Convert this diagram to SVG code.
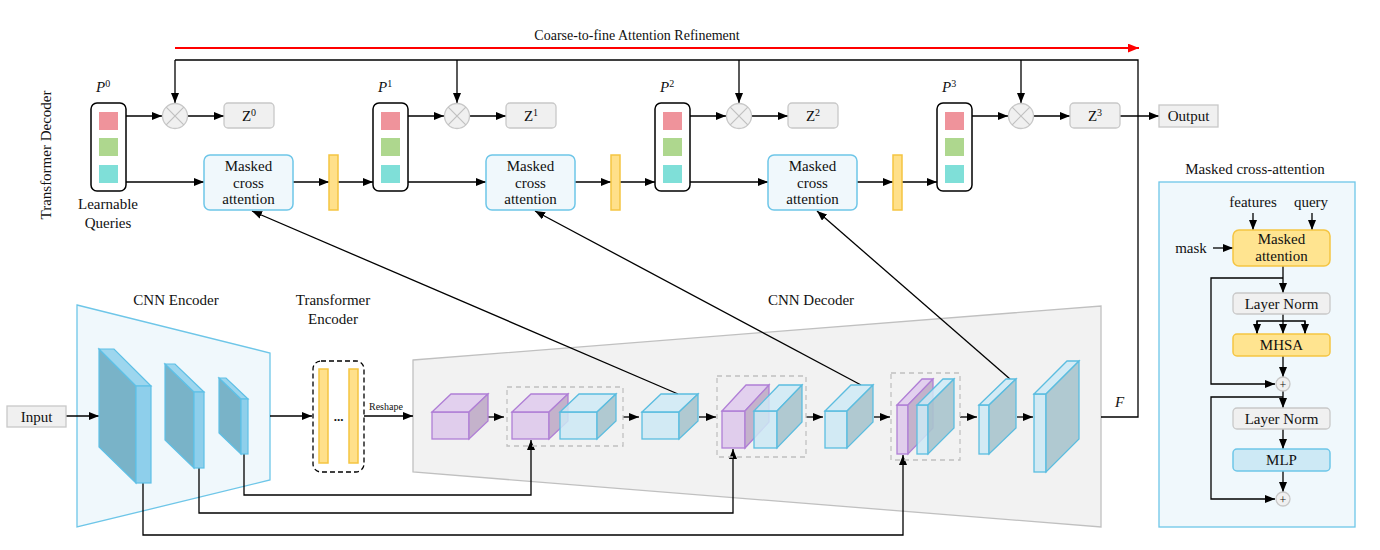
<svg xmlns="http://www.w3.org/2000/svg" width="1380" height="550" viewBox="0 0 1380 550">
<defs>
<marker id="ah" viewBox="0 0 10 8" refX="10" refY="4" markerWidth="10" markerHeight="8" markerUnits="userSpaceOnUse" orient="auto"><path d="M0,0 L10,4 L0,8 Z" fill="#000"/></marker>
<marker id="ahr" viewBox="0 0 10 8" refX="10" refY="4" markerWidth="11" markerHeight="9" markerUnits="userSpaceOnUse" orient="auto"><path d="M0,0 L10,4 L0,8 Z" fill="#f00"/></marker>
<style>
text{font-family:"Liberation Serif","Times New Roman",serif;font-size:15px;fill:#111;}
.c{text-anchor:middle;}
.it{font-style:italic;}
.ln{fill:none;stroke:#000;stroke-width:1.3;}
.la{fill:none;stroke:#000;stroke-width:1.3;marker-end:url(#ah);}
.pbox{fill:#fff;stroke:#000;stroke-width:1.5;}
.sq1{fill:#ef939b;}
.sq2{fill:#aed78e;}
.sq3{fill:#7fdfd8;}
.gbox{fill:#f0f0f0;stroke:#c8c8c8;stroke-width:1.3;}
.bbox{fill:#f0f8fc;stroke:#6ec6e8;stroke-width:1.5;}
.ybox{fill:#ffe490;stroke:#f5c542;stroke-width:1.5;}
.mbox{fill:#cde9f5;stroke:#6ec6e8;stroke-width:1.5;}
.ybar{fill:#ffe08a;stroke:#f5c542;stroke-width:1.5;}
.circ{fill:#f0f0f0;stroke:#c8c8c8;stroke-width:1.3;}
.cx{stroke:#c0c0c0;stroke-width:1.2;}
.ef{fill:#8ecfeb;stroke:#5ec0e6;stroke-width:1.2;}
.et{fill:#9dd6ee;stroke:#5ec0e6;stroke-width:1.2;}
.es{fill:#79b3c8;stroke:#5ec0e6;stroke-width:1.2;}
.pf{fill:#e0cdec;stroke:#b07fd6;stroke-width:1.3;}
.pt{fill:#e2d0ee;stroke:#b07fd6;stroke-width:1.3;}
.ps{fill:#c4b2cb;stroke:#b07fd6;stroke-width:1.3;}
.bf{fill:#cde9f5;fill-opacity:0.85;stroke:#5bbde0;stroke-width:1.3;}
.bt{fill:#cfeaf6;fill-opacity:0.85;stroke:#5bbde0;stroke-width:1.3;}
.bs{fill:#a9c4cd;fill-opacity:0.9;stroke:#5bbde0;stroke-width:1.3;}
.dash{fill:none;stroke:#c0c0c0;stroke-width:1.3;stroke-dasharray:5,4;}
</style>
</defs>

<!-- background panels -->
<g id="cnn-encoder-panel">
<polygon points="77,305 270,353 270,480 77,527" fill="#f0f8fc" stroke="#6ec6e8" stroke-width="1.3"/>
<text class="c" x="176" y="305">CNN Encoder</text>
</g>
<g id="cnn-decoder-panel">
<polygon points="413,360 1101,306 1101,527 413,472" fill="#f2f2f2" stroke="#c0c0c0" stroke-width="1.3"/>
<text class="c" x="811" y="305">CNN Decoder</text>
</g>

<!-- connectors -->
<g id="connectors">
<line x1="175" y1="48" x2="1139" y2="48" stroke="#f00" stroke-width="2" marker-end="url(#ahr)"/>
<polyline class="ln" points="1101,417 1138,417 1138,60 175,60"/>
<line class="la" x1="175" y1="60" x2="175" y2="103"/>
<line class="la" x1="457" y1="60" x2="457" y2="103"/>
<line class="la" x1="739" y1="60" x2="739" y2="103"/>
<line class="la" x1="1021" y1="60" x2="1021" y2="103"/>
<!-- P to circles to Z -->
<line class="la" x1="126" y1="116" x2="162" y2="116"/>
<line class="la" x1="188" y1="116" x2="224" y2="116"/>
<line class="la" x1="408" y1="116" x2="444" y2="116"/>
<line class="la" x1="470" y1="116" x2="506" y2="116"/>
<line class="la" x1="690" y1="116" x2="726" y2="116"/>
<line class="la" x1="752" y1="116" x2="788" y2="116"/>
<line class="la" x1="972" y1="116" x2="1008" y2="116"/>
<line class="la" x1="1034" y1="116" x2="1070" y2="116"/>
<line class="la" x1="1120" y1="116" x2="1159" y2="116"/>
<!-- lower chain -->
<line class="la" x1="126" y1="182" x2="204" y2="182"/>
<line class="la" x1="293" y1="182" x2="329" y2="182"/>
<line class="la" x1="338" y1="182" x2="373" y2="182"/>
<line class="la" x1="408" y1="182" x2="486" y2="182"/>
<line class="la" x1="575" y1="182" x2="611" y2="182"/>
<line class="la" x1="620" y1="182" x2="655" y2="182"/>
<line class="la" x1="690" y1="182" x2="768" y2="182"/>
<line class="la" x1="857" y1="182" x2="893" y2="182"/>
<line class="la" x1="902" y1="182" x2="937" y2="182"/>
<!-- decoder features to masked cross attention -->
<line class="la" x1="678" y1="394" x2="252" y2="211"/>
<line class="la" x1="861" y1="385" x2="535" y2="211"/>
<line class="la" x1="1010" y1="379" x2="817" y2="211"/>
<!-- encoder path -->
<line class="la" x1="66" y1="416" x2="99" y2="416"/>
<line class="la" x1="270" y1="416" x2="312" y2="416"/>
<line class="la" x1="364" y1="416" x2="413" y2="416"/>
<line class="la" x1="488" y1="417" x2="504" y2="417"/>
<line class="la" x1="623" y1="417" x2="639" y2="417"/>
<line class="la" x1="699" y1="417" x2="716" y2="417"/>
<line class="la" x1="806" y1="417" x2="823" y2="417"/>
<line class="la" x1="874" y1="417" x2="890" y2="417"/>
<line class="la" x1="960" y1="417" x2="977" y2="417"/>
<line class="la" x1="1017" y1="417" x2="1033" y2="417"/>
<!-- skip connections -->
<polyline class="la" points="244,454 244,495 531,495 531,440"/>
<polyline class="la" points="199,468 199,513 733,513 733,449"/>
<polyline class="la" points="143,483 143,535 903,535 903,455"/>
</g>

<!-- top decoder nodes -->
<text class="c" x="637" y="40" style="font-size:14px">Coarse-to-fine Attention Refinement</text>
<text transform="translate(51,155) rotate(-90)" class="c">Transformer Decoder</text>

<g id="P0">
<text x="96" y="92" class="it">P<tspan dy="-5" style="font-size:10px;font-style:normal">0</tspan></text>
<rect class="pbox" x="91" y="103" width="35" height="88" rx="6"/>
<rect class="sq1" x="99" y="112" width="19" height="18"/>
<rect class="sq2" x="99" y="138" width="19" height="18"/>
<rect class="sq3" x="99" y="165" width="19" height="18"/>
<text class="c" x="108" y="209">Learnable</text>
<text class="c" x="108" y="228">Queries</text>
</g>
<g id="P1">
<text x="378" y="92" class="it">P<tspan dy="-5" style="font-size:10px;font-style:normal">1</tspan></text>
<rect class="pbox" x="373" y="103" width="35" height="88" rx="6"/>
<rect class="sq1" x="381" y="112" width="19" height="18"/>
<rect class="sq2" x="381" y="138" width="19" height="18"/>
<rect class="sq3" x="381" y="165" width="19" height="18"/>
</g>
<g id="P2">
<text x="660" y="92" class="it">P<tspan dy="-5" style="font-size:10px;font-style:normal">2</tspan></text>
<rect class="pbox" x="655" y="103" width="35" height="88" rx="6"/>
<rect class="sq1" x="663" y="112" width="19" height="18"/>
<rect class="sq2" x="663" y="138" width="19" height="18"/>
<rect class="sq3" x="663" y="165" width="19" height="18"/>
</g>
<g id="P3">
<text x="942" y="92" class="it">P<tspan dy="-5" style="font-size:10px;font-style:normal">3</tspan></text>
<rect class="pbox" x="937" y="103" width="35" height="88" rx="6"/>
<rect class="sq1" x="945" y="112" width="19" height="18"/>
<rect class="sq2" x="945" y="138" width="19" height="18"/>
<rect class="sq3" x="945" y="165" width="19" height="18"/>
</g>

<g id="mult0"><circle class="circ" cx="175" cy="116" r="12.5"/><path class="cx" d="M166.2,107.2 L183.8,124.8 M183.8,107.2 L166.2,124.8"/></g>
<g id="mult1"><circle class="circ" cx="457" cy="116" r="12.5"/><path class="cx" d="M448.2,107.2 L465.8,124.8 M465.8,107.2 L448.2,124.8"/></g>
<g id="mult2"><circle class="circ" cx="739" cy="116" r="12.5"/><path class="cx" d="M730.2,107.2 L747.8,124.8 M747.8,107.2 L730.2,124.8"/></g>
<g id="mult3"><circle class="circ" cx="1021" cy="116" r="12.5"/><path class="cx" d="M1012.2,107.2 L1029.8,124.8 M1029.8,107.2 L1012.2,124.8"/></g>

<g id="Z0"><rect class="gbox" x="224" y="103" width="50" height="25" rx="4"/><text class="c" x="249" y="121">Z<tspan dy="-5" style="font-size:10px">0</tspan></text></g>
<g id="Z1"><rect class="gbox" x="506" y="103" width="50" height="25" rx="4"/><text class="c" x="531" y="121">Z<tspan dy="-5" style="font-size:10px">1</tspan></text></g>
<g id="Z2"><rect class="gbox" x="788" y="103" width="50" height="25" rx="4"/><text class="c" x="813" y="121">Z<tspan dy="-5" style="font-size:10px">2</tspan></text></g>
<g id="Z3"><rect class="gbox" x="1070" y="103" width="50" height="25" rx="4"/><text class="c" x="1095" y="121">Z<tspan dy="-5" style="font-size:10px">3</tspan></text></g>
<g id="output"><rect class="gbox" x="1159" y="105" width="59" height="22"/><text class="c" x="1188.5" y="121">Output</text></g>

<g id="mca1"><rect class="bbox" x="204" y="155" width="89" height="55" rx="6"/><text class="c" x="248.5" y="171">Masked</text><text class="c" x="248.5" y="188">cross</text><text class="c" x="248.5" y="204">attention</text></g>
<g id="mca2"><rect class="bbox" x="486" y="155" width="89" height="55" rx="6"/><text class="c" x="530.5" y="171">Masked</text><text class="c" x="530.5" y="188">cross</text><text class="c" x="530.5" y="204">attention</text></g>
<g id="mca3"><rect class="bbox" x="768" y="155" width="89" height="55" rx="6"/><text class="c" x="812.5" y="171">Masked</text><text class="c" x="812.5" y="188">cross</text><text class="c" x="812.5" y="204">attention</text></g>

<g id="bar1"><rect class="ybar" x="329" y="155" width="9" height="55"/></g>
<g id="bar2"><rect class="ybar" x="611" y="155" width="9" height="55"/></g>
<g id="bar3"><rect class="ybar" x="893" y="155" width="9" height="55"/></g>

<!-- input and encoder -->
<g id="input"><rect class="gbox" x="7" y="406" width="59" height="21"/><text class="c" x="36.5" y="422">Input</text></g>

<g id="enc1">
<polygon class="es" points="99,349 136,386 136,483 99,447"/>
<polygon class="et" points="99,349 114,349 151,386 136,386"/>
<rect class="ef" x="136" y="386" width="15" height="97"/>
</g>
<g id="enc2">
<polygon class="es" points="165,364 194,392 194,468 165,440"/>
<polygon class="et" points="165,364 175,364 204,392 194,392"/>
<rect class="ef" x="194" y="392" width="10" height="76"/>
</g>
<g id="enc3">
<polygon class="es" points="219,378 241,399 241,454 219,433"/>
<polygon class="et" points="219,378 226,378 248,399 241,399"/>
<rect class="ef" x="241" y="399" width="7" height="55"/>
</g>

<g id="transformer-encoder">
<text class="c" x="333" y="305">Transformer</text>
<text class="c" x="333" y="324">Encoder</text>
<rect x="313" y="361" width="51" height="111" rx="8" fill="none" stroke="#000" stroke-width="1.3" stroke-dasharray="5,3"/>
<rect class="ybar" x="319" y="369" width="9" height="94"/>
<rect class="ybar" x="349" y="369" width="9" height="94"/>
<text class="c" x="338.5" y="421" style="font-weight:bold;font-size:13px">...</text>
<text x="369" y="410" style="font-size:10px">Reshape</text>
</g>

<!-- decoder features -->
<g id="dec1">
<rect class="pf" x="432" y="412" width="37" height="27"/>
<polygon class="pt" points="432,412 451,394 488,394 469,412"/>
<polygon class="ps" points="469,412 488,394 488,421 469,439"/>
</g>
<g id="concat1">
<rect class="dash" x="507" y="387" width="116" height="59"/>
<rect class="pf" x="512" y="412" width="37" height="27"/>
<polygon class="pt" points="512,412 531,394 568,394 549,412"/>
<polygon class="ps" points="549,412 568,394 568,421 549,439"/>
<rect class="bf" x="560" y="412" width="37" height="27"/>
<polygon class="bt" points="560,412 579,394 616,394 597,412"/>
<polygon class="bs" points="597,412 616,394 616,421 597,439"/>
</g>
<g id="dec2">
<rect class="bf" x="642" y="412" width="37" height="27"/>
<polygon class="bt" points="642,412 661,394 698,394 679,412"/>
<polygon class="bs" points="679,412 698,394 698,421 679,439"/>
</g>
<g id="concat2">
<rect class="dash" x="717" y="376" width="89" height="81"/>
<rect class="pf" x="722" y="411" width="23" height="37"/>
<polygon class="pt" points="722,411 746,385 769,385 745,411"/>
<polygon class="ps" points="745,411 769,385 769,422 745,448"/>
<rect class="bf" x="754" y="411" width="23" height="37"/>
<polygon class="bt" points="754,411 779,385 802,385 777,411"/>
<polygon class="bs" points="777,411 802,385 802,422 777,448"/>
</g>
<g id="dec3">
<rect class="bf" x="825" y="411" width="22" height="37"/>
<polygon class="bt" points="825,411 851,385 873,385 847,411"/>
<polygon class="bs" points="847,411 873,385 873,422 847,448"/>
</g>
<g id="concat3">
<rect class="dash" x="891" y="373" width="69" height="87"/>
<rect class="pf" x="897" y="405" width="11" height="49"/>
<polygon class="pt" points="897,405 922,379 933,379 908,405"/>
<polygon class="ps" points="908,405 933,379 933,428 908,454"/>
<rect class="bf" x="917" y="405" width="11" height="49"/>
<polygon class="bt" points="917,405 943,379 954,379 928,405"/>
<polygon class="bs" points="928,405 954,379 954,428 928,454"/>
</g>
<g id="dec4">
<rect class="bf" x="979" y="405" width="10" height="49"/>
<polygon class="bt" points="979,405 1006,379 1016,379 989,405"/>
<polygon class="bs" points="989,405 1016,379 1016,428 989,454"/>
</g>
<g id="dec5">
<rect class="bf" x="1034" y="394" width="12" height="78"/>
<polygon class="bt" points="1034,394 1067,361 1079,361 1046,394"/>
<polygon class="bs" points="1046,394 1079,361 1079,439 1046,472"/>
</g>
<text x="1115" y="407" class="it">F</text>

<!-- Masked cross-attention detail panel -->
<g id="mca-panel">
<text class="c" x="1255" y="174">Masked cross-attention</text>
<rect x="1159" y="182" width="196" height="345" fill="#f0f8fc" stroke="#6ec6e8" stroke-width="1.3"/>
<text class="c" x="1253" y="207">features</text>
<text class="c" x="1311" y="207">query</text>
<text class="c" x="1191" y="253">mask</text>
</g>
<g id="panel-connectors">
<line class="la" x1="1253" y1="213" x2="1253" y2="230"/>
<line class="la" x1="1312" y1="213" x2="1312" y2="230"/>
<line class="la" x1="1213" y1="248" x2="1233" y2="248"/>
<line class="la" x1="1283" y1="266" x2="1283" y2="293"/>
<polyline class="la" points="1283,278 1211,278 1211,384 1275,384"/>
<polyline class="ln" points="1283,314 1283,321"/>
<polyline class="ln" points="1257,334 1257,321 1305,321 1305,334"/>
<line class="la" x1="1257" y1="321" x2="1257" y2="334"/>
<line class="la" x1="1283" y1="321" x2="1283" y2="334"/>
<line class="la" x1="1305" y1="321" x2="1305" y2="334"/>
<line class="la" x1="1283" y1="356" x2="1283" y2="377"/>
<line class="la" x1="1283" y1="391" x2="1283" y2="408"/>
<polyline class="la" points="1283,397 1211,397 1211,499 1275,499"/>
<line class="la" x1="1283" y1="429" x2="1283" y2="449"/>
<line class="la" x1="1283" y1="471" x2="1283" y2="492"/>
</g>
<g id="masked-attention"><rect class="ybox" x="1233" y="230" width="97" height="36" rx="6"/><text class="c" x="1281.5" y="244">Masked</text><text class="c" x="1281.5" y="261">attention</text></g>
<g id="layernorm1"><rect class="gbox" x="1233" y="293" width="97" height="21" rx="4"/><text class="c" x="1281.5" y="309">Layer Norm</text></g>
<g id="mhsa"><rect class="ybox" x="1233" y="334" width="97" height="22" rx="4"/><text class="c" x="1281.5" y="350">MHSA</text></g>
<g id="add1"><circle class="circ" cx="1283" cy="384" r="7"/><text class="c" x="1283" y="388.5" style="font-size:12px">+</text></g>
<g id="layernorm2"><rect class="gbox" x="1233" y="408" width="97" height="21" rx="4"/><text class="c" x="1281.5" y="424">Layer Norm</text></g>
<g id="mlp"><rect class="mbox" x="1233" y="449" width="97" height="22" rx="4"/><text class="c" x="1281.5" y="465">MLP</text></g>
<g id="add2"><circle class="circ" cx="1283" cy="499" r="7"/><text class="c" x="1283" y="503.5" style="font-size:12px">+</text></g>
</svg>
